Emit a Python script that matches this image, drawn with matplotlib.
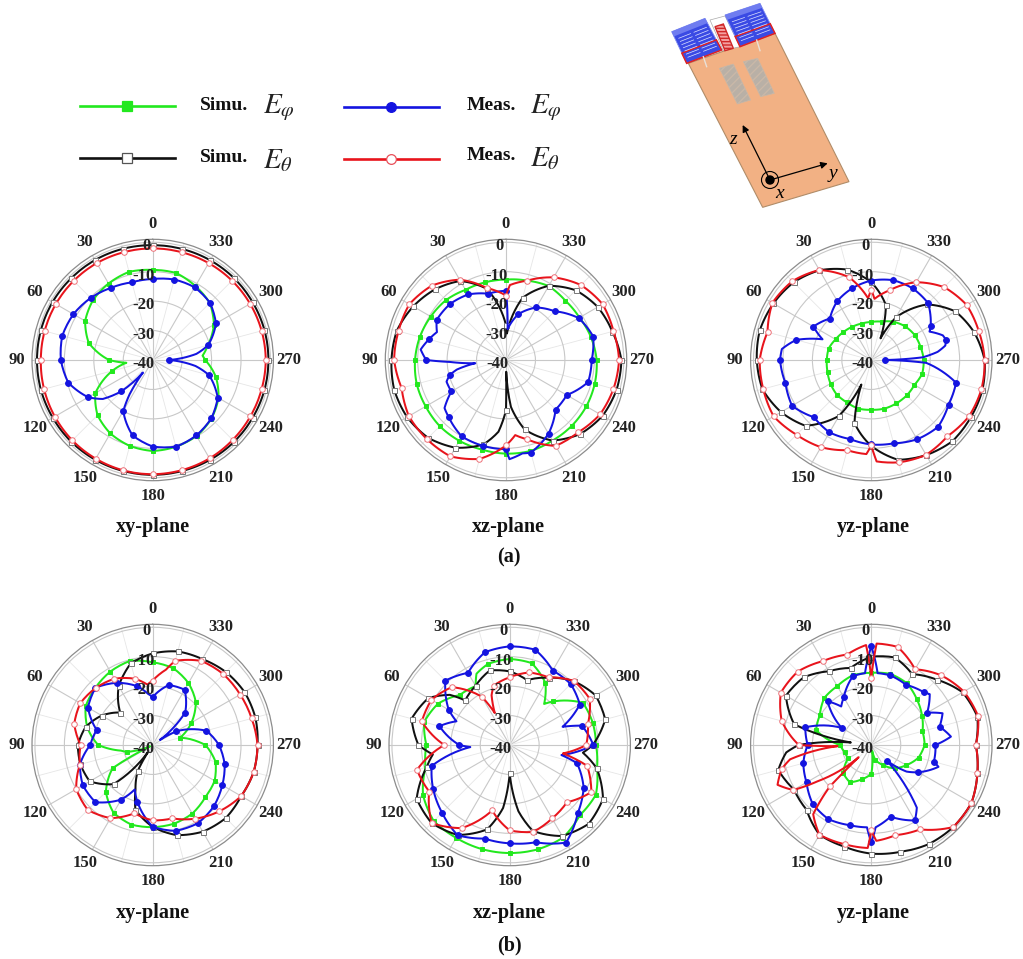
#!/usr/bin/env python3
"""
Radiation patterns of the antenna: simulated and measured E-phi / E-theta cuts.
"""
import numpy as np
import matplotlib
matplotlib.use('Agg')
import matplotlib.pyplot as plt
from matplotlib.patches import Polygon, Circle

plt.rcParams['font.family'] = ['Liberation Serif', 'DejaVu Serif']
plt.rcParams['mathtext.fontset'] = 'stix'

W, H = 1023, 959
R = 120.7

# values in dB every 15 deg, starting at 0 and going counter-clockwise
angles = list(range(0, 360, 15))
ring_vals = [-40, -30, -20, -10, 0]
angle_labels = list(range(0, 360, 30))

# (a) xy-plane
a_xy_green = [-9.4, -9.0, -10.0, -11.3, -13.5, -17.5, -25.2, -25.8, -17.5, -13.5, -11.2, -9.8,
              -9.1, -9.5, -10.2, -11.8, -14.2, -17.8, -22.2, -20.6, -16.0, -12.6, -11.0, -9.4]
a_xy_green_x = [(96, -31.0), (275, -23.0)]
a_xy_black = [-1.0, -0.9, -0.8, -0.8, -0.7, -0.7, -0.7, -0.7, -0.8, -0.8, -0.9, -1.0,
              -1.0, -1.0, -0.9, -0.8, -0.8, -0.7, -0.7, -0.7, -0.8, -0.8, -0.9, -1.0]
a_xy_black_x = []
a_xy_blue = [-12.5, -12.7, -11.7, -10.2, -8.9, -8.2, -8.8, -10.3, -14.7, -25.0, -20.0, -13.5,
             -10.6, -9.5, -10.4, -11.9, -14.5, -20.2, -34.4, -20.5, -15.2, -12.5, -11.5, -11.7]
a_xy_blue_x = [(128, -18.5), (142, -34.6), (146, -26.0), (262, -25.3), (278, -25.0)]
a_xy_red = [-2.1, -2.1, -2.0, -2.0, -2.0, -2.0, -2.0, -1.8, -1.6, -1.4, -1.3, -1.2,
            -1.2, -1.3, -1.4, -1.6, -1.7, -1.7, -1.6, -1.7, -1.8, -1.9, -2.0, -2.1]
a_xy_red_x = []

# (a) xz-plane
a_xz_green = [-12.7, -12.7, -12.5, -11.2, -10.5, -9.7, -9.1, -8.6, -8.5, -8.2, -8.3, -8.5,
              -8.2, -8.0, -8.4, -8.4, -8.5, -8.8, -9.2, -10.1, -11.2, -11.5, -11.0, -12.1]
a_xz_green_x = []
a_xz_black = [-28.2, -15.0, -9.0, -6.0, -3.6, -1.6, -1.1, -0.7, -1.2, -2.6, -5.6, -10.3,
              -23.0, -15.6, -8.4, -4.4, -2.1, -1.1, -0.8, -2.6, -4.0, -6.5, -10.9, -18.1]
a_xz_black_x = [(174, -15.5), (181, -36.0), (186, -24.0), (358, -31.0)]
a_xz_blue = [-16.5, -16.7, -14.3, -13.1, -12.8, -12.9, -12.9, -20.2, -18.6, -12.5, -10.0, -9.8,
             -9.7, -7.4, -11.1, -16.2, -16.2, -11.1, -10.9, -9.3, -11.5, -16.6, -19.4, -23.9]
a_xz_blue_x = [(68, -14.7), (83, -10.8), (92, -21.0), (96, -29.5), (101, -23.0), (110, -18.5),
               (128, -13.5), (182, -6.3), (190, -7.8), (357, -29.5)]
a_xz_red = [-18.1, -14.7, -8.5, -4.3, -2.1, -2.2, -2.0, -3.3, -1.9, -2.0, -2.2, -5.2,
            -11.0, -12.1, -6.3, -5.3, -3.1, -2.2, -1.6, -2.2, -2.1, -4.0, -7.6, -12.1]
a_xz_red_x = [(187, -14.3), (357, -14.5)]

# (a) yz-plane
a_yz_green = [-27.1, -27.2, -27.0, -26.6, -26.0, -25.0, -24.9, -24.6, -24.0, -23.4, -23.4, -22.9,
              -23.1, -22.9, -23.0, -23.0, -23.1, -22.1, -22.2, -22.7, -23.0, -23.8, -25.0, -26.5]
a_yz_green_x = []
a_yz_black = [-13.6, -8.2, -4.8, -2.7, -1.6, -0.8, -1.1, -1.7, -4.6, -8.4, -18.1, -17.9,
              -10.8, -4.9, -2.7, -1.0, -1.0, -0.9, -1.5, -3.8, -7.0, -13.3, -23.3, -20.8]
a_yz_black_x = [(158, -31.0), (337, -32.0)]
a_yz_blue = [-13.0, -14.8, -16.9, -20.1, -17.3, -13.6, -9.0, -9.8, -8.9, -12.5, -11.6, -12.2,
             -11.3, -10.7, -8.9, -7.9, -9.7, -10.2, -35.2, -13.7, -16.7, -12.7, -11.9, -11.9]
a_yz_blue_x = [(67, -22.0), (83, -9.4), (267, -21.3), (273, -22.5), (277, -17.3), (281, -14.4),
               (289, -14.3), (296, -18.0)]
a_yz_red = [-16.2, -10.9, -4.7, -2.1, -1.2, -3.5, -2.1, -2.0, -1.7, -4.1, -5.8, -8.3,
            -11.0, -4.0, -2.8, -3.4, -1.7, -1.3, -1.5, -2.2, -2.6, -5.0, -9.5, -15.4]
a_yz_red_x = [(3, -19.0), (177, -8.0), (183, -5.5), (357, -19.2)]

# (b) xy-plane
b_xy_green = [-11.9, -10.4, -11.2, -12.5, -13.7, -17.0, -21.5, -31.0, -24.3, -17.5, -13.4, -12.0,
              -12.1, -12.3, -13.1, -14.8, -15.7, -17.9, -22.1, -30.4, -24.8, -19.3, -15.7, -13.0]
b_xy_green_x = [(100, -29.0), (110, -35.0), (116, -39.0), (275, -25.0)]
b_xy_black = [-8.9, -11.3, -16.9, -24.4, -20.0, -16.4, -14.6, -14.6, -15.3, -21.2, -29.9, -17.3,
              -12.2, -8.3, -6.0, -4.9, -5.3, -4.5, -4.4, -3.9, -4.0, -4.9, -6.3, -7.1]
b_xy_black_x = [(22, -14.0), (146, -37.0), (159, -23.7)]
b_xy_blue = [-23.7, -19.3, -15.6, -12.5, -14.6, -20.3, -18.8, -14.4, -12.6, -12.5, -18.6, -20.0,
             -12.2, -9.8, -9.3, -10.6, -12.7, -14.7, -17.5, -21.2, -30.7, -24.4, -18.3, -18.9]
b_xy_blue_x = [(5, -22.6), (158, -23.7), (305, -37.0)]
b_xy_red = [-18.1, -16.7, -14.0, -12.6, -11.6, -12.4, -15.5, -14.4, -10.0, -8.8, -11.3, -16.0,
            -14.4, -14.2, -11.1, -8.1, -5.3, -4.5, -4.4, -5.2, -5.7, -6.0, -7.0, -10.4]
b_xy_red_x = [(5, -19.4), (350, -14.0)]

# (b) xz-plane
b_xz_green = [-10.8, -11.5, -16.9, -16.0, -11.9, -9.9, -11.7, -10.4, -6.0, -3.5, -3.6, -3.4,
              -3.3, -3.3, -3.7, -6.3, -6.2, -9.3, -10.7, -10.8, -11.3, -19.1, -15.7, -11.2]
b_xz_green_x = [(25, -13.3), (320, -21.8)]
b_xz_black = [-15.0, -13.8, -16.8, -18.6, -8.1, -5.5, -9.0, -10.8, -3.5, -2.5, -4.7, -10.3,
              -30.4, -9.8, -4.3, -2.1, -3.4, -9.4, -11.8, -6.4, -6.3, -9.3, -13.6, -17.2]
b_xz_black_x = [(50, -13.5), (97, -13.7), (174, -18.5), (187.5, -17.3), (264, -15.0)]
b_xz_blue = [-6.5, -7.4, -11.7, -9.1, -16.1, -15.3, -22.9, -12.6, -10.0, -7.5, -4.6, -7.1,
             -6.6, -5.8, -1.7, -7.3, -11.0, -16.4, -11.6, -14.6, -12.5, -10.7, -10.8, -6.5]
b_xz_blue_x = [(66, -20.2), (93, -26.6), (259, -22.1), (289, -21.0)]
b_xz_red = [-17.0, -19.1, -21.1, -12.2, -9.3, -9.1, -17.8, -7.4, -8.4, -2.5, -7.4, -17.0,
            -11.0, -9.4, -11.2, -12.5, -8.0, -12.8, -14.0, -12.5, -8.6, -9.2, -13.5, -14.5]
b_xz_red_x = [(20, -22.0), (25, -28.0), (261, -21.7)]

# (b) yz-plane
b_yz_green = [-15.5, -15.5, -16.9, -17.4, -19.8, -20.6, -29.4, -30.7, -30.9, -26.5, -25.4, -28.0,
              -30.2, -34.8, -32.2, -28.8, -26.3, -23.4, -21.9, -22.0, -20.1, -18.1, -15.8, -15.0]
b_yz_green_x = [(188, -38.0)]
b_yz_black = [-10.0, -12.9, -11.1, -7.5, -6.5, -12.9, -15.3, -7.3, -9.7, -8.9, -4.8, -4.3,
              -3.1, -2.4, -1.1, -0.6, -0.7, -2.7, -4.5, -2.7, -4.2, -8.6, -12.2, -9.2]
b_yz_black_x = [(83, -33.0), (95, -11.0)]
b_yz_blue = [-6.5, -15.8, -21.3, -19.0, -28.4, -16.8, -18.4, -16.1, -14.6, -11.8, -10.9, -11.8,
             -6.9, -14.8, -10.4, -32.5, -21.5, -18.0, -18.2, -16.0, -18.1, -14.7, -16.4, -15.5]
b_yz_blue_x = [(5, -15.5), (38, -23.4), (177, -12.0), (183, -12.0), (216, -13.7), (233, -25.0),
               (252, -16.0), (276, -12.8), (294, -13.5), (311, -13.7), (355, -15.5)]
b_yz_red = [-17.3, -8.2, -7.1, -4.7, -4.5, -8.5, -15.4, -8.5, -9.4, -20.1, -4.8, -5.1,
            -11.0, -8.3, -6.9, -0.6, -0.7, -2.7, -4.5, -2.4, -3.7, -6.5, -10.3, -5.5]
b_yz_red_x = [(3, -6.0), (92, -28.5), (100, -12.0), (113, -5.4), (124, -17.9), (134, -34.0),
              (140, -9.3), (178, -5.0), (183, -7.4), (357, -5.5)]

GREEN, BLACK, BLUE, RED = '#22e81e', '#111111', '#1414e0', '#e8141c'
SERIF = ['Liberation Serif', 'DejaVu Serif']


def merged(vals, extras):
    pts = sorted(list(zip(angles, vals)) + extras)
    pts.append((360, vals[0]))
    th, r = zip(*pts)
    return np.radians(th), np.array(r)


def draw_series(ax, vals, extras, color, marker, face, edge, size):
    th, r = merged(vals, extras)
    line, = ax.plot(th, r, color=color, lw=1.45, solid_joinstyle='round')
    line.get_path()._interpolation_steps = 8
    ax.plot(np.radians(angles), vals, ls='none', marker=marker, ms=size,
            mfc=face, mec=edge, mew=0.7, clip_on=False)


def polar_panel(cx, cy, green, black, blue, red):
    ax = fig.add_axes([(cx - R) / W, 1 - (cy + R) / H, 2 * R / W, 2 * R / H],
                      projection='polar')
    ax.set_theta_zero_location('N')
    ax.set_theta_direction(1)
    ax.set_rlim(-40, 1)
    ax.set_yticks(ring_vals[1:])
    ax.set_yticklabels([])
    ax.set_xticks(np.radians(angle_labels))
    ax.set_xticklabels([])
    ax.set_xticks(np.radians(range(15, 360, 30)), minor=True)
    ax.tick_params(which='both', length=0)
    ax.grid(True, which='major', color='#c8c8c8', lw=0.8)
    ax.grid(True, which='minor', color='#e6e6e6', lw=0.6)
    ax.spines['polar'].set_color('#8c8c8c')
    ax.spines['polar'].set_linewidth(0.9)
    ax.set_axisbelow(True)

    draw_series(ax, *green, GREEN, 's', GREEN, GREEN, 3.4)
    draw_series(ax, *black, BLACK, 's', 'white', '#777777', 3.6)
    draw_series(ax, *blue, BLUE, 'o', BLUE, BLUE, 4.2)
    draw_series(ax, *red, RED, 'o', 'white', '#ee7078', 4.0)

    lab_r = -40 + 41 * 136 / R
    for a in angle_labels:
        ax.text(np.radians(a), lab_r, str(a), ha='center', va='center', fontsize=12,
                fontweight='bold', family=SERIF, color='#222222', clip_on=False)
    for v in ring_vals:
        dx = -6 if v == 0 else -9
        ax.annotate(str(v), (0, v), xytext=(dx, -4), textcoords='offset pixels', ha='center',
                    va='center', fontsize=12, fontweight='bold', family=SERIF,
                    color='#222222', zorder=6)
    return ax


fig = plt.figure(figsize=(W / 100, H / 100), dpi=100)

polar_panel(152.7, 360, (a_xy_green, a_xy_green_x), (a_xy_black, a_xy_black_x),
            (a_xy_blue, a_xy_blue_x), (a_xy_red, a_xy_red_x))
polar_panel(506, 360, (a_xz_green, a_xz_green_x), (a_xz_black, a_xz_black_x),
            (a_xz_blue, a_xz_blue_x), (a_xz_red, a_xz_red_x))
polar_panel(871.3, 360, (a_yz_green, a_yz_green_x), (a_yz_black, a_yz_black_x),
            (a_yz_blue, a_yz_blue_x), (a_yz_red, a_yz_red_x))
polar_panel(152.7, 745, (b_xy_green, b_xy_green_x), (b_xy_black, b_xy_black_x),
            (b_xy_blue, b_xy_blue_x), (b_xy_red, b_xy_red_x))
polar_panel(509.7, 745, (b_xz_green, b_xz_green_x), (b_xz_black, b_xz_black_x),
            (b_xz_blue, b_xz_blue_x), (b_xz_red, b_xz_red_x))
polar_panel(871.3, 745, (b_yz_green, b_yz_green_x), (b_yz_black, b_yz_black_x),
            (b_yz_blue, b_yz_blue_x), (b_yz_red, b_yz_red_x))

# overlay in pixel coordinates for legend, captions and the antenna sketch
ov = fig.add_axes([0, 0, 1, 1], zorder=10)
ov.set_xlim(0, W)
ov.set_ylim(H, 0)
ov.axis('off')
ov.patch.set_alpha(0)

legend_rows = [
    (80, 175, 127, 105.7, GREEN, 's', GREEN, GREEN, 'Simu.', 200, 105, r'$E_{\varphi}$', 263),
    (80, 175, 127, 158.3, BLACK, 's', 'white', '#555555', 'Simu.', 200, 158, r'$E_{\theta}$', 263),
    (344, 439, 391, 106.5, BLUE, 'o', BLUE, BLUE, 'Meas.', 467, 105, r'$E_{\varphi}$', 530),
    (344, 439, 391, 158.8, RED, 'o', 'white', '#e8505a', 'Meas.', 467, 156, r'$E_{\theta}$', 530),
]
for x0, x1, xm, y, col, mk, face, edge, name, xt, yt, sym, xs in legend_rows:
    ov.plot([x0, x1], [y, y], color=col, lw=1.9)
    ov.plot([xm], [y], marker=mk, ms=7, mfc=face, mec=edge, mew=0.9, ls='none')
    ov.text(xt, yt, name, fontsize=14, fontweight='bold', family=SERIF, va='center', color='#111111')
    ov.text(xs, yt + 3, sym, fontsize=21, va='center', color='#222222')

for x, y, s in [(153, 527, 'xy-plane'), (508, 527, 'xz-plane'), (873, 527, 'yz-plane'),
                (153, 913, 'xy-plane'), (509, 913, 'xz-plane'), (873, 913, 'yz-plane'),
                (509, 557, '(a)'), (509, 945, '(b)')]:
    ov.text(x, y, s, fontsize=14.5, fontweight='bold', family=SERIF, ha='center', va='center',
            color='#111111')


def sk(pts):
    # sketch points given in crop pixels of the antenna drawing
    return [(660 + x / 3, y / 3) for x, y in pts]


ov.add_patch(Polygon(sk([(85, 190), (345, 100), (567, 545), (308, 622)]), fc='#f2b184', ec='#b08c68', lw=0.8))
ov.add_patch(Polygon(sk([(150, 60), (195, 48), (240, 140), (190, 152)]), fc='white', ec='#aaaaaa', lw=0.5))
for blk in ([(35, 95), (135, 55), (185, 150), (80, 190)], [(195, 45), (300, 10), (345, 100), (240, 140)]):
    ov.add_patch(Polygon(sk(blk), fc='#3a4ae4', ec='#7f8cf0', lw=0.6))
    p0, p1, p2, p3 = [np.array(p, float) for p in blk]
    ov.add_patch(Polygon(sk([p0, p1, p1 + (p2 - p1) * 0.15, p0 + (p3 - p0) * 0.15]), fc='#6f7cf0', ec='none'))
    for f in np.arange(0.25, 0.95, 0.1):
        a = p0 + (p3 - p0) * f
        b = p1 + (p2 - p1) * f
        ov.plot(*zip(*sk([a + (b - a) * 0.1, a + (b - a) * 0.45])), color='#dfe3ff', lw=0.5)
        ov.plot(*zip(*sk([a + (b - a) * 0.55, a + (b - a) * 0.92])), color='#dfe3ff', lw=0.5)
    ov.add_patch(Polygon(sk([p0 + (p3 - p0) * 0.68, p1 + (p2 - p1) * 0.68, p2, p3]), fc='none', ec='#e02020', lw=1.1))
ov.add_patch(Polygon(sk([(165, 80), (190, 72), (220, 145), (195, 152)]), fc='#f4a0a0', ec='#d02828', lw=1.0,
                     hatch='-----'))
for slot in ([(178, 205), (220, 192), (272, 300), (232, 312)], [(250, 185), (293, 175), (343, 280), (302, 290)]):
    ov.add_patch(Polygon(sk(slot), fc='#b9b0a6', ec='#c9b8a8', lw=0.5, hatch='////'))
ov.plot(*zip(*sk([(130, 170), (140, 200)])), color='#e8e0d8', lw=1.0)
ov.plot(*zip(*sk([(290, 120), (300, 152)])), color='#e8e0d8', lw=1.0)

org = sk([(330, 540)])[0]
ov.annotate('', xy=sk([(248, 375)])[0], xytext=org, arrowprops=dict(arrowstyle='-|>', color='black', lw=0.9, shrinkA=0, shrinkB=0))
ov.annotate('', xy=sk([(503, 490)])[0], xytext=org, arrowprops=dict(arrowstyle='-|>', color='black', lw=0.9, shrinkA=0, shrinkB=0))
ov.add_patch(Circle(org, 8.5, fc='#f2b184', ec='black', lw=0.8))
ov.add_patch(Circle(org, 4, fc='black', ec='black'))
for x, y, s in [(218, 420, 'z'), (518, 520, 'y'), (360, 580, 'x')]:
    px, py = sk([(x, y)])[0]
    ov.text(px, py, s, fontsize=14, style='italic', family=SERIF, ha='center', va='center')

fig.savefig('out.png', dpi=100)
